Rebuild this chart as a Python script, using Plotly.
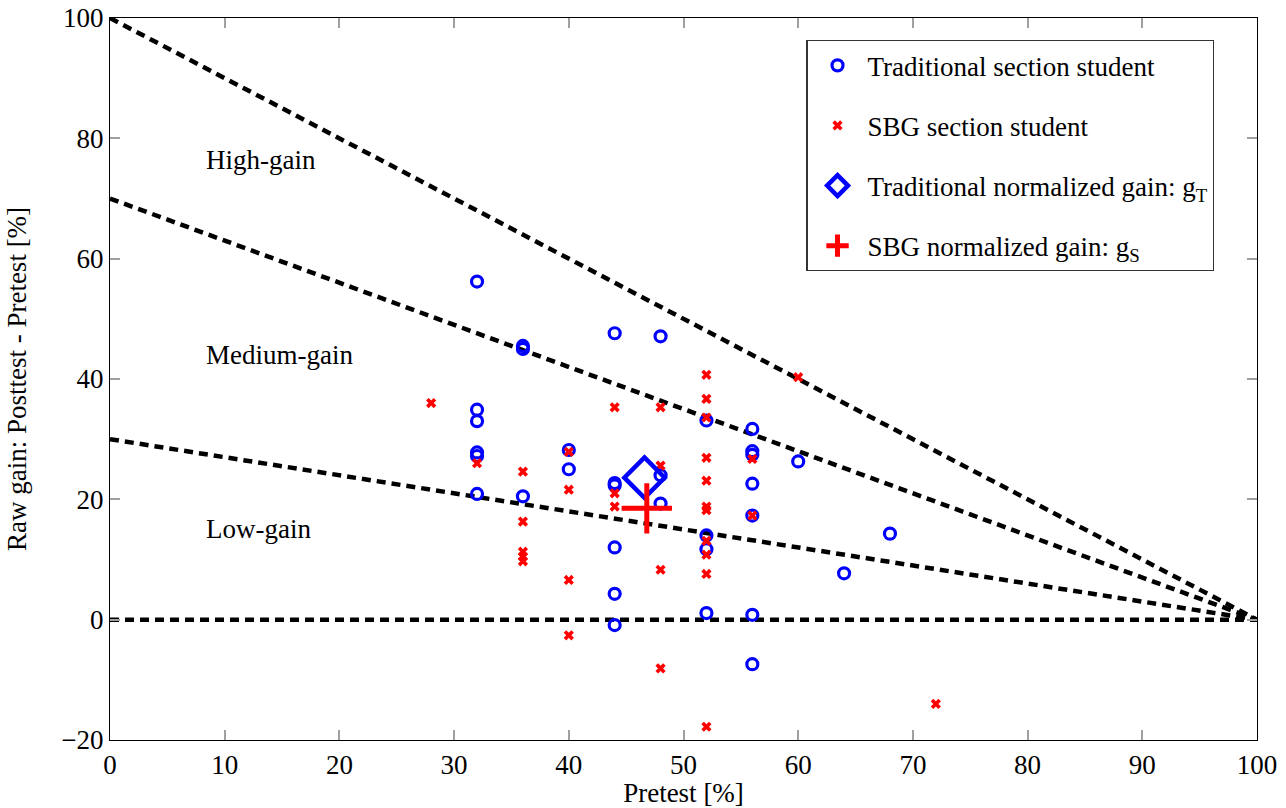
import plotly.graph_objects as go

# Traditional section students (pretest %, raw gain %)
trad_pre = [32, 32, 32, 32, 32, 32,
            36, 36, 36,
            40, 40,
            44, 44, 44, 44, 44, 44,
            48, 48, 48,
            52, 52, 52, 52,
            56, 56, 56, 56, 56, 56, 56,
            60, 64, 68]
trad_gain = [56.2, 34.9, 33.0, 27.8, 27.2, 20.9,
             45.5, 45.0, 20.5,
             28.2, 25.0,
             47.6, 22.7, 22.3, 12.0, 4.3, -0.9,
             47.1, 24.0, 19.3,
             33.1, 14.0, 11.7, 1.1,
             31.7, 28.0, 27.4, 22.6, 17.3, 0.8, -7.4,
             26.3, 7.7, 14.3]

# SBG section students
sbg_pre = [28,
           32,
           36, 36, 36, 36, 36,
           40, 40, 40, 40,
           44, 44, 44,
           48, 48, 48, 48,
           52, 52, 52, 52, 52, 52, 52, 52, 52, 52, 52,
           56, 56,
           60,
           72]
sbg_gain = [36.0,
            26.0,
            24.6, 16.3, 11.3, 10.5, 9.7,
            27.9, 21.6, 6.6, -2.6,
            35.3, 21.0, 18.8,
            35.3, 25.6, 8.3, -8.1,
            40.7, 36.7, 33.6, 26.9, 23.1, 18.8, 18.2, 13.1, 10.8, 7.6, -17.8,
            26.7, 17.3,
            40.3,
            -14.0]

# Normalized gains (average pretest, average gain)
gT_pre, gT_gain = [46.6], [23.6]
gS_pre, gS_gain = [46.8], [18.5]

# Boundary lines: gain = g * (100 - pretest)
bound_x = [0, 100]
bound_g = [1.0, 0.7, 0.3, 0.0]

# Region labels
region_labels = ["High-gain", "Medium-gain", "Low-gain"]
region_y = [76.4, 44.0, 15.0]

x_ticks = list(range(0, 101, 10))
y_ticks = list(range(-20, 101, 20))

FONT = "Liberation Serif, Times New Roman, serif"

fig = go.Figure()

for g in bound_g:
    fig.add_trace(go.Scatter(
        x=bound_x, y=[100 * g * (100 - bx) / 100 for bx in bound_x],
        mode="lines", line=dict(color="black", width=4.5, dash="9px,6px"),
        showlegend=False, hoverinfo="skip"))

fig.add_trace(go.Scatter(
    x=trad_pre, y=trad_gain, mode="markers", name="Traditional section student",
    legendgroup="a",
    marker=dict(symbol="circle-open", size=11, color="#0000ff", line=dict(width=3.2, color="#0000ff"))))

fig.add_trace(go.Scatter(
    x=sbg_pre, y=sbg_gain, mode="markers", name="SBG section student",
    legendgroup="b",
    marker=dict(symbol="x", size=9, color="#ff0000", line=dict(width=0))))

fig.add_trace(go.Scatter(
    x=gT_pre, y=gT_gain, mode="markers", name="Traditional normalized gain: g<sub>T</sub>",
    legendgroup="c",
    marker=dict(symbol="diamond-open", size=31, color="#0000ff", line=dict(width=4.5, color="#0000ff"))))

fig.add_trace(go.Scatter(
    x=gS_pre, y=gS_gain, mode="markers", name="SBG normalized gain: g<sub>S</sub>",
    legendgroup="d",
    marker=dict(symbol="cross-thin-open", size=36, color="#ff0000", line=dict(width=5, color="#ff0000"))))

for lbl, yv in zip(region_labels, region_y):
    fig.add_annotation(x=8.2, y=yv, text=lbl, showarrow=False, xanchor="left", yanchor="middle",
                       font=dict(family=FONT, size=27, color="black"))

axis_common = dict(
    showgrid=False, zeroline=False, showline=True, linecolor="black", linewidth=1.3,
    mirror="allticks", ticks="inside", ticklen=10, tickwidth=1.5, tickcolor="#a0a0a0",
    tickfont=dict(family=FONT, size=27, color="black"), automargin=False,
)

fig.update_xaxes(range=[0, 100], tickvals=x_ticks,
                 title=dict(text="Pretest [%]", font=dict(family=FONT, size=27, color="black"), standoff=8),
                 **axis_common)
fig.update_yaxes(range=[-20, 100], tickvals=y_ticks,
                 title=dict(text="Raw gain: Posttest - Pretest [%]", font=dict(family=FONT, size=27, color="black"), standoff=26),
                 **axis_common)

fig.update_layout(
    width=1286, height=808,
    margin=dict(l=110, r=29, t=18, b=68),
    plot_bgcolor="white", paper_bgcolor="white",
    font=dict(family=FONT, color="black"),
    legend=dict(x=0.607, y=0.9695, xanchor="left", yanchor="top",
                bordercolor="#333333", borderwidth=1.3, bgcolor="white",
                font=dict(family=FONT, size=27, color="black"),
                traceorder="grouped", tracegroupgap=22, itemsizing="trace",
                itemwidth=50),
)

fig.write_html("out.html", config={"displayModeBar": False},
               post_script="document.body.style.margin='0px';")
